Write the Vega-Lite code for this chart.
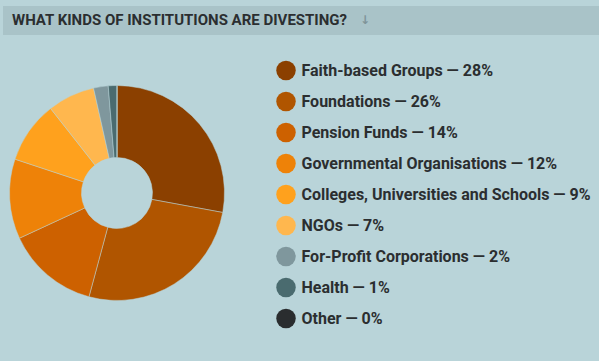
{
  "$schema": "https://vega.github.io/schema/vega-lite/v6.json",
  "background": "#b9d4d9",
  "padding": {"left": 3, "top": 6, "right": 0, "bottom": 27},
  "config": {"view": {"stroke": null}},
  "datasets": {
    "inst": [
      {"idx": 1, "category": "Faith-based Groups", "share": 27.9, "entry": "Faith-based Groups — 28%"},
      {"idx": 2, "category": "Foundations", "share": 26.3, "entry": "Foundations — 26%"},
      {"idx": 3, "category": "Pension Funds", "share": 13.9, "entry": "Pension Funds — 14%"},
      {"idx": 4, "category": "Governmental Organisations", "share": 12.0, "entry": "Governmental Organisations — 12%"},
      {"idx": 5, "category": "Colleges, Universities and Schools", "share": 9.3, "entry": "Colleges, Universities and Schools — 9%"},
      {"idx": 6, "category": "NGOs", "share": 7.1, "entry": "NGOs — 7%"},
      {"idx": 7, "category": "For-Profit Corporations", "share": 2.2, "entry": "For-Profit Corporations — 2%"},
      {"idx": 8, "category": "Health", "share": 1.3, "entry": "Health — 1%"},
      {"idx": 9, "category": "Other", "share": 0.0, "entry": "Other — 0%"}
    ],
    "head": [{"title": "WHAT KINDS OF INSTITUTIONS ARE DIVESTING?", "arrow": "↓"}]
  },
  "spacing": 20,
  "bounds": "flush",
  "vconcat": [
    {
      "width": 596,
      "height": 29,
      "view": {"fill": "#a9c3c8", "stroke": null},
      "data": {"name": "head"},
      "layer": [
        {
          "mark": {"type": "text", "align": "left", "baseline": "middle", "dx": 9, "dy": -1, "font": "Roboto", "fontWeight": "bold", "fontSize": 15, "color": "#2b2e30"},
          "encoding": {
            "x": {"datum": 0, "type": "quantitative", "scale": {"domain": [0, 1]}, "axis": null},
            "text": {"field": "title"}
          }
        },
        {
          "mark": {"type": "text", "align": "left", "baseline": "middle", "dx": 357, "dy": -1, "font": "DejaVu Sans", "fontWeight": "bold", "fontSize": 12, "color": "#7f9499"},
          "encoding": {
            "x": {"datum": 0, "type": "quantitative", "scale": {"domain": [0, 1]}, "axis": null},
            "text": {"field": "arrow"}
          }
        }
      ]
    },
    {
      "spacing": 55,
      "bounds": "flush",
      "hconcat": [
        {
          "width": 228,
          "height": 276,
          "data": {"name": "inst"},
          "mark": {"type": "arc", "innerRadius": 35.5, "outerRadius": 107.5, "stroke": "#b9d4d9", "strokeWidth": 0.5},
          "encoding": {
            "theta": {"field": "share", "type": "quantitative", "stack": true},
            "order": {"field": "idx", "type": "quantitative"},
            "color": {
              "field": "category",
              "type": "nominal",
              "scale": {
                "domain": ["Faith-based Groups", "Foundations", "Pension Funds", "Governmental Organisations", "Colleges, Universities and Schools", "NGOs", "For-Profit Corporations", "Health", "Other"],
                "range": ["#8b4000", "#b05500", "#cd6100", "#ee8208", "#ffa11d", "#ffb74e", "#7f979d", "#4a6b6f", "#2a2d2f"]
              },
              "legend": null
            }
          }
        },
        {
          "width": 280,
          "height": 279,
          "data": {"name": "inst"},
          "layer": [
            {
              "mark": {"type": "circle", "size": 380, "opacity": 1},
              "encoding": {
                "x": {"datum": 0, "type": "quantitative", "scale": {"domain": [0, 1]}, "axis": null},
                "y": {"field": "category", "type": "nominal", "sort": {"field": "idx"}, "scale": {"type": "point", "padding": 0.5}, "axis": null},
                "color": {"field": "category", "type": "nominal", "legend": null}
              }
            },
            {
              "mark": {"type": "text", "align": "left", "baseline": "middle", "dx": 15.5, "font": "Roboto", "fontWeight": "bold", "fontSize": 16, "color": "#2b2e30"},
              "encoding": {
                "x": {"datum": 0, "type": "quantitative", "scale": {"domain": [0, 1]}, "axis": null},
                "y": {"field": "category", "type": "nominal", "sort": {"field": "idx"}, "scale": {"type": "point", "padding": 0.5}, "axis": null},
                "text": {"field": "entry"}
              }
            }
          ]
        }
      ]
    }
  ]
}
